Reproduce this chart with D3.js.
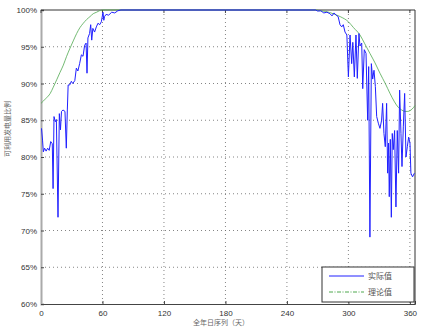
<!DOCTYPE html>
<html><head><meta charset="utf-8">
<script src="https://cdn.jsdelivr.net/npm/d3@7"></script>
<style>body{margin:0;background:#fff}svg{display:block}</style>
</head><body>
<script>
// ---- data ----
const xTicks = [0, 60, 120, 180, 240, 300, 360];
const yTicks = [0.60, 0.65, 0.70, 0.75, 0.80, 0.85, 0.90, 0.95, 1.00];
const seriesNames = ["实际值", "理论值"];

const actualDays = [0.5,1.5,2.3,3.5,5,6.5,8,9.5,11,11.8,12.7,14,15,16.6,17.9,19,20,21.5,23.4,24.7,25.7,26.5,28,29.6,31,33,34.5,36,37.7,39.4,41,42.6,44,44.9,45.8,47.4,48.5,49.5,50.6,52.3,54,55.6,57.3,58.9,60.5,61.3,62,63.5,66,69,72,75,78,120,180,240,268,
270,273,276,279,282,284,286,288,290,291.8,293.5,295,296.7,298.5,300,301.6,303.2,304.3,305.8,307.4,308.7,310.3,311.3,313,314,315.5,317.2,318.8,319.8,321,322.4,323.7,325,326.3,327.6,329.2,330.8,332.4,333.4,334.7,336,337.3,338.3,339.2,339.9,340.9,341.9,342.8,343.8,345.1,346.4,347.7,349,350,351.3,352.3,353.6,354.9,356.2,357.5,358.8,360.1,361,362.6,364.4];
const actualValues = [83.9,82.3,80.7,81.2,80.8,81.2,80.9,82.1,81.8,75.7,85.5,84.8,85.1,71.8,85.9,83.7,86.2,86.4,86.2,81.2,86.4,89.8,89.8,90.3,90.0,90.4,92.1,91.7,92.7,93.9,93.7,95.2,95.5,91.4,96.2,96.8,98.0,95.9,97.5,97.0,97.7,98.2,98.0,98.4,99.7,98.6,99.1,99.4,99.3,99.7,99.6,99.9,100,100,100,100,100,
99.85,99.9,99.6,99.7,99.5,99.2,99.6,99.3,99.1,98.0,97.7,98.0,97.0,96.6,90.9,96.6,92.7,95.6,90.9,96.6,90.7,96.8,95.1,95.5,89.3,94.6,94.1,85.0,92.3,69.1,92.7,90.6,91.8,89.6,85.5,84.6,83.9,85.0,87.3,83.2,81.4,87.3,77.8,81.9,74.6,82.4,71.8,83.2,81.0,83.6,73.2,83.6,77.8,89.1,83.2,78.7,84.1,88.65,80.0,81.4,82.7,81.9,77.8,77.3,77.8];

const theoryDays = [0,5,9,12,15.3,18.5,21.8,25,28.3,31.5,34.8,38,41.3,44.5,47.8,51,54.3,57,60,65,120,180,240,268,272,278,285,292,300,305,311.3,316,321,326,330.8,336,340.6,345,348.7,352,355.2,358,360,362,365];
const theoryValues = [87.3,88.0,88.65,89.5,90.5,91.5,92.5,93.7,94.8,95.8,96.8,97.6,98.2,98.7,99.1,99.5,99.7,99.9,100,100,100,100,100,100,99.9,99.8,99.5,99.1,98.4,97.6,96.6,95.4,94.1,92.8,91.4,90.0,88.65,87.5,86.75,86.4,86.2,86.2,86.3,86.5,87.0];

// ---- layout ----
const W = 423, H = 331;
const m = {left: 41, right: 415, top: 10, bottom: 304};
const svg = d3.select("body").append("svg").attr("width", W).attr("height", H);

const x = d3.scaleLinear().domain([0, 365]).range([m.left, m.right]);
const y = d3.scaleLinear().domain([0.60, 1.00]).range([m.bottom, m.top]);

svg.append("rect").attr("x", m.left).attr("y", m.top)
  .attr("width", m.right - m.left).attr("height", m.bottom - m.top).attr("fill", "#fff");

// grid
const grid = svg.append("g").attr("stroke", "#666").attr("stroke-width", 0.8).attr("stroke-dasharray", "1,3");
grid.selectAll("line.v").data(xTicks.filter(d => d > 0)).join("line")
  .attr("x1", d => x(d)).attr("x2", d => x(d)).attr("y1", m.top).attr("y2", m.bottom);
grid.selectAll("line.h").data(yTicks.filter(d => d > 0.6 && d < 1)).join("line")
  .attr("x1", m.left).attr("x2", m.right).attr("y1", d => y(d)).attr("y2", d => y(d));

// axes
const fmtPct = d3.format(".0%");
const xAxis = svg.append("g").attr("transform", `translate(0,${m.bottom})`)
  .call(d3.axisBottom(x).tickValues(xTicks).tickSize(-3).tickPadding(6));
const yAxis = svg.append("g").attr("transform", `translate(${m.left},0)`)
  .call(d3.axisLeft(y).tickValues(yTicks).tickFormat(fmtPct).tickSize(-3).tickPadding(4));
[xAxis, yAxis].forEach(g => {
  g.selectAll("text").attr("font-family", "Liberation Sans, Arial, sans-serif").attr("font-size", 8).attr("fill", "#333");
  g.selectAll(".tick line").attr("stroke", "#444");
});
xAxis.select(".domain").attr("stroke", "#444");
yAxis.select(".domain").attr("stroke", "#aaa").attr("stroke-width", 2);
// top ticks
svg.append("g").selectAll("line").data(xTicks).join("line")
  .attr("x1", d => x(d)).attr("x2", d => x(d)).attr("y1", m.top).attr("y2", m.top + 3).attr("stroke", "#444");
// frame top & right
svg.append("line").attr("x1", m.left).attr("x2", m.right).attr("y1", m.top).attr("y2", m.top).attr("stroke", "#333");
svg.append("line").attr("x1", m.right).attr("x2", m.right).attr("y1", m.top).attr("y2", m.bottom).attr("stroke", "#333");

// lines
const actual = actualDays.map((d, i) => [d, actualValues[i] / 100]);
const theory = theoryDays.map((d, i) => [d, theoryValues[i] / 100]);
const line = d3.line().x(d => x(d[0])).y(d => y(d[1]));
svg.append("path").datum(theory).attr("fill", "none").attr("stroke", "#4fa84f").attr("stroke-width", 0.8)
  .attr("d", line.curve(d3.curveMonotoneX));
svg.append("path").datum(actual).attr("fill", "none").attr("stroke", "#2020ff").attr("stroke-width", 1)
  .attr("d", d3.line().x(d => x(d[0])).y(d => y(d[1]))(actual));

// legend
const lg = svg.append("g");
lg.append("rect").attr("x", 322).attr("y", 267).attr("width", 92).attr("height", 35)
  .attr("fill", "#fff").attr("stroke", "#333").attr("stroke-width", 1);
const legendStyles = [{c: "#2020ff", dash: null}, {c: "#4fa84f", dash: "4,1.5,1,1.5"}];
seriesNames.forEach((name, i) => {
  const yy = 276 + i * 16;
  lg.append("line").attr("x1", 329).attr("x2", 364).attr("y1", yy).attr("y2", yy)
    .attr("stroke", legendStyles[i].c).attr("stroke-width", 1).attr("stroke-dasharray", legendStyles[i].dash);
  lg.append("text").attr("x", 368).attr("y", yy + 3).text(name)
    .attr("font-family", "Noto Sans CJK SC").attr("font-size", 8).attr("fill", "#555");
});

// axis titles
svg.append("text").attr("x", 221).attr("y", 325).attr("text-anchor", "middle")
  .attr("font-family", "Noto Sans CJK SC").attr("font-size", 7).attr("fill", "#666").text("全年日序列（天）");
svg.append("text").attr("transform", "translate(10,129) rotate(-90)").attr("text-anchor", "middle")
  .attr("font-family", "Noto Sans CJK SC").attr("font-size", 7).attr("fill", "#666").text("可利用发电量比例");
</script>
</body></html>
